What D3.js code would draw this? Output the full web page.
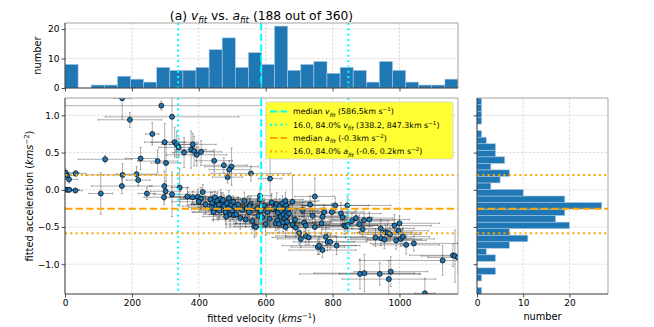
<!DOCTYPE html>
<html><head><meta charset="utf-8">
<script src="https://cdn.jsdelivr.net/npm/d3@7"></script>
<style>body{margin:0;background:#fff} svg{display:block;font-family:"DejaVu Sans",sans-serif}</style>
</head><body><svg id="c" width="654" height="327"></svg>
<script>
// ---------- data ----------
const velocityTicks = [0, 200, 400, 600, 800, 1000];
const accelTicks = [-1.0, -0.5, 0.0, 0.5, 1.0];
const countTicks = [0, 10, 20];
const velocityRange = [0, 1175];
const accelRange = [-1.40, 1.233];
// top histogram (30 bins over velocityRange)
const velocityCounts = [8,0,1,1,4,3,2,7,6,6,7,13,17,7,12,8,21,6,8,9,5,7,6,2,9,6,2,1,1,3];
// right histogram (30 bins over accelRange, lowest first)
const accelCounts = [1,0,1,4,0,4,2,7,11,7,20,17,19,27,19,10,3,5,7,3,6,4,4,2,1,0,1,1,1,1];
const medianV = 586.5, pctV = [338.2, 847.3];
const medianA = -0.255, pctA = [-0.585, 0.20];

const velocity = [
171,288,320,194,261,298,328,334,340,356,
377,382,386,394,407,120,226,277,302,446,
475,498,491,486,556,613,2,7,12,32,
172,214,219,170,297,343,0,8,13,31,
107,245,301,320,412,583,
296,366,382,397,406,400,420,
435,440,448,452,455,458,462,465,438,468,444,460,
472,476,480,484,488,490,494,497,500,503,505,507,482,
512,518,524,530,536,540,545,
550,555,560,566,571,575,578,582,585,552,
590,595,600,605,612,618,624,
628,630,633,635,637,640,642,645,647,650,652,654,656,658,660,661,662,663,664,665,659,
670,680,680,688,690,700,
705,710,715,720,720,729,733,740,
747,747,756,760,767,770,770,780,775,
785,793,798,808,812,
825,830,835,840,844,845,858,
882,880,890,894,895,870,
928,910,
941,944,945,955,958,965,968,974,972,
985,997,1004,1010,1000,990,
1020,1043,
1076,1129,1160,1166,1175];
const acceleration = [
1.23,1.13,0.98,0.94,0.75,0.64,0.64,0.61,0.57,0.50,
0.54,0.61,0.52,0.47,0.51,0.41,0.42,0.385,0.36,0.39,
0.33,0.31,0.27,0.17,0.22,0.15,0.23,0.19,0.14,0.22,
0.20,0.21,0.13,0.05,0.05,0.03,0.00,0.00,0.00,-0.01,
-0.05,-0.05,-0.02,-0.06,-0.03,-0.08,
-0.10,-0.09,-0.10,-0.09,-0.12,-0.16,-0.20,
-0.13,-0.18,-0.10,-0.22,-0.15,-0.26,-0.28,-0.12,-0.24,-0.19,-0.30,-0.20,
-0.14,-0.22,-0.30,-0.18,-0.25,-0.11,-0.33,-0.20,-0.28,-0.16,-0.34,-0.23,-0.36,
-0.33,-0.20,-0.38,-0.27,-0.15,-0.40,-0.24,
-0.30,-0.19,-0.42,-0.49,-0.50,-0.25,-0.35,-0.13,-0.28,-0.22,
-0.37,-0.21,-0.46,-0.30,-0.39,-0.17,-0.26,
-0.24,-0.45,-0.19,-0.41,-0.31,-0.46,-0.22,-0.36,-0.28,-0.18,-0.44,-0.33,-0.25,-0.38,-0.50,-0.21,-0.29,-0.35,-0.43,-0.26,-0.15,
-0.32,-0.16,-0.47,-0.40,-0.51,-0.58,
-0.66,-0.27,-0.44,-0.48,-0.62,-0.64,-0.20,-0.35,
-0.09,-0.50,-0.77,-0.75,-0.45,-0.36,-0.81,-0.63,-0.30,
-0.70,-0.70,-0.30,-0.21,-0.75,
-0.32,-0.37,-0.48,-0.49,-0.21,-0.47,-0.42,
-1.13,-0.46,-0.53,-0.41,-1.12,-0.38,
-0.64,-0.40,
-1.13,-0.52,-0.65,-0.67,-0.57,-0.58,-1.20,-1.10,-0.60,
-0.48,-0.55,-0.66,-0.63,-0.45,-0.68,
-0.74,-0.72,
-1.39,-0.95,-0.88,-0.89,-0.91];
const velocityErr = [
25,300,200,95,20,60,70,45,60,35,
45,70,55,90,60,80,45,60,45,55,
70,80,60,45,120,35,40,30,25,30,
110,60,35,90,45,25,30,20,30,20,
35,25,45,55,45,35,
60,50,70,40,60,80,50,
90,60,70,100,50,80,60,110,70,90,60,75,
80,60,100,70,90,60,80,120,70,90,60,100,70,
80,110,70,90,60,100,80,
90,120,70,60,80,100,70,130,90,60,
100,80,120,70,90,110,80,
90,120,70,100,80,130,90,70,110,80,100,90,120,70,100,80,110,90,130,70,100,
90,70,110,80,100,90,
70,100,80,120,90,110,80,100,
60,100,80,110,90,70,100,120,90,
80,110,90,100,70,
120,90,100,80,130,90,110,
180,100,120,90,150,110,
90,120,
120,100,90,110,80,100,140,110,90,
110,90,100,80,120,90,
100,130,
30,250,130,100,90];
const accelerationErr = [
0.28,0.06,0.35,0.10,0.15,0.25,0.20,0.18,0.12,0.20,
0.25,0.15,0.20,0.15,0.15,0.05,0.15,0.15,0.25,0.15,
0.10,0.25,0.12,0.08,0.10,0.35,0.05,0.05,0.05,0.04,
0.15,0.10,0.08,0.10,0.20,0.25,0.03,0.03,0.03,0.03,
0.28,0.08,0.10,0.30,0.10,0.12,
0.10,0.12,0.08,0.10,0.15,0.08,0.12,
0.10,0.15,0.08,0.12,0.10,0.15,0.10,0.12,0.08,0.15,0.12,0.10,
0.10,0.15,0.12,0.08,0.12,0.10,0.15,0.10,0.12,0.08,0.12,0.10,0.15,
0.12,0.10,0.15,0.10,0.12,0.10,0.15,
0.12,0.10,0.12,0.15,0.12,0.10,0.12,0.08,0.12,0.10,
0.12,0.10,0.15,0.12,0.10,0.12,0.10,
0.12,0.10,0.15,0.12,0.10,0.12,0.10,0.15,0.12,0.10,0.12,0.10,0.12,0.15,0.12,0.10,0.12,0.10,0.12,0.10,0.12,
0.12,0.35,0.12,0.10,0.12,0.15,
0.12,0.10,0.12,0.10,0.12,0.10,0.12,0.10,
0.25,0.12,0.10,0.12,0.15,0.12,0.10,0.12,0.10,
0.12,0.10,0.12,0.10,0.12,
0.15,0.10,0.12,0.10,0.12,0.12,0.10,
0.20,0.12,0.10,0.12,0.25,0.10,
0.12,0.10,
0.15,0.12,0.10,0.12,0.10,0.12,0.25,0.20,0.10,
0.15,0.12,0.10,0.12,0.10,0.12,
0.12,0.10,
0.20,0.20,0.15,0.35,0.20];

// ---------- layout ----------
const svg = d3.select("#c");
const M = {l:65, r:458, t:98, b:294};
const T = {t:23, b:88};
const R = {l:477, r:608};
const x = d3.scaleLinear().domain(velocityRange).range([M.l, M.r]);
const y = d3.scaleLinear().domain(accelRange).range([M.b, M.t]);
const yTop = d3.scaleLinear().domain([0, 22.05]).range([T.b, T.t]);
const xRight = d3.scaleLinear().domain([0, 28.35]).range([R.l, R.r]);

const BLUE = "#1f77b4", CYAN = "#00ffff", ORANGE = "#ffa500";
const TICKFS = 9, LABFS = 9.8;
const dashed = "7.4,3.2", dotted = "2,3.3";

function rich(sel, parts, fs) {
  let off = 0;
  parts.forEach(p => {
    const ts = sel.append("tspan").text(p.t);
    let target = 0, size = fs;
    if (p.sub) { target = 0.28 * fs; size = 0.7 * fs; }
    if (p.sup) { target = -0.38 * fs; size = 0.7 * fs; }
    ts.attr("font-size", size);
    if (target !== off) { ts.attr("dy", target - off); off = target; }
    if (p.it) ts.attr("font-style", "italic");
  });
  return sel;
}

const defs = svg.append("defs");
defs.append("clipPath").attr("id","cm").append("rect").attr("x",M.l).attr("y",M.t).attr("width",M.r-M.l).attr("height",M.b-M.t);
defs.append("clipPath").attr("id","ct").append("rect").attr("x",M.l).attr("y",T.t).attr("width",M.r-M.l).attr("height",T.b-T.t);
defs.append("clipPath").attr("id","cr").append("rect").attr("x",R.l).attr("y",M.t).attr("width",R.r-R.l).attr("height",M.b-M.t);

function grid(g, xs, xv, ys, yv, x0, x1, y0, y1) {
  const gg = g.append("g").attr("stroke","#b0b0b0").attr("stroke-opacity",0.55).attr("stroke-width",0.8).attr("stroke-dasharray","2.5,1.5");
  xv.forEach(v => gg.append("line").attr("x1",xs(v)).attr("x2",xs(v)).attr("y1",y0).attr("y2",y1));
  yv.forEach(v => gg.append("line").attr("x1",x0).attr("x2",x1).attr("y1",ys(v)).attr("y2",ys(v)));
}
function frame(x0, x1, y0, y1) {
  svg.append("line").attr("x1",x0).attr("x2",x1).attr("y1",y0).attr("y2",y0).attr("stroke","#999").attr("stroke-width",0.9);
  svg.append("line").attr("x1",x1).attr("x2",x1).attr("y1",y0).attr("y2",y1).attr("stroke","#999").attr("stroke-width",0.9);
  svg.append("line").attr("x1",x0).attr("x2",x0).attr("y1",y0).attr("y2",y1).attr("stroke","#222").attr("stroke-width",0.9);
  svg.append("line").attr("x1",x0).attr("x2",x1).attr("y1",y1).attr("y2",y1).attr("stroke","#222").attr("stroke-width",0.9);
}
function styleAxis(g, showLabels) {
  g.select(".domain").remove();
  g.selectAll(".tick line").attr("stroke","#222").attr("stroke-width",0.8);
  g.selectAll(".tick text").attr("font-size",TICKFS).attr("fill","#000").attr("font-family","DejaVu Sans");
  if (!showLabels) g.selectAll(".tick text").remove();
}
const fmtInt = d3.format("d");

// ---------- top histogram ----------
const vStep = (velocityRange[1]-velocityRange[0]) / velocityCounts.length;
grid(svg, x, velocityTicks, yTop, countTicks, M.l, M.r, T.t, T.b);
svg.append("g").attr("clip-path","url(#ct)").selectAll("rect").data(velocityCounts).join("rect")
  .attr("x",(d,i)=>x(velocityRange[0]+i*vStep))
  .attr("width",(d,i)=>x(velocityRange[0]+(i+1)*vStep)-x(velocityRange[0]+i*vStep))
  .attr("y",d=>yTop(d)).attr("height",d=>yTop(0)-yTop(d))
  .attr("fill",BLUE).attr("stroke","#a9c8e4").attr("stroke-width",0.6);
const topLines = svg.append("g").attr("clip-path","url(#ct)");
topLines.append("line").attr("x1",x(medianV)).attr("x2",x(medianV)).attr("y1",T.t).attr("y2",T.b)
  .attr("stroke",CYAN).attr("stroke-width",2).attr("stroke-dasharray",dashed);
pctV.forEach(v => topLines.append("line").attr("x1",x(v)).attr("x2",x(v)).attr("y1",T.t).attr("y2",T.b)
  .attr("stroke",CYAN).attr("stroke-width",2).attr("stroke-dasharray",dotted));
frame(M.l, M.r, T.t, T.b);
styleAxis(svg.append("g").attr("transform",`translate(0,${T.b})`).call(d3.axisBottom(x).tickValues(velocityTicks).tickSizeInner(3.5).tickSizeOuter(0)), false);
styleAxis(svg.append("g").attr("transform",`translate(${M.l},0)`).call(d3.axisLeft(yTop).tickValues(countTicks).tickFormat(fmtInt).tickSizeInner(3.5).tickSizeOuter(0).tickPadding(2)), true);
svg.append("text").attr("transform",`translate(41,${(T.t+T.b)/2}) rotate(-90)`).attr("text-anchor","middle")
  .attr("font-size",LABFS).text("number");

rich(svg.append("text").attr("x",(M.l+M.r)/2).attr("y",19.5).attr("text-anchor","middle").attr("font-size",12.3),
  [{t:"(a) "},{t:"v",it:1},{t:"fit",it:1,sub:1},{t:" vs. "},{t:"a",it:1},{t:"fit",it:1,sub:1},{t:" (188 out of 360)"}], 12.3);

// ---------- main scatter ----------
grid(svg, x, velocityTicks, y, accelTicks, M.l, M.r, M.t, M.b);
const pts = velocity.map((v,i)=>({v, a:acceleration[i], ev:velocityErr[i], ea:accelerationErr[i]}));
const eb = svg.append("g").attr("clip-path","url(#cm)").attr("stroke","#000").attr("stroke-opacity",0.42).attr("stroke-width",0.75);
pts.forEach(p => {
  const cx = x(p.v), cy = y(p.a);
  const xl = x(p.v-p.ev), xr = x(p.v+p.ev), yt = y(p.a+p.ea), yb = y(p.a-p.ea);
  eb.append("line").attr("x1",xl).attr("x2",xr).attr("y1",cy).attr("y2",cy);
  eb.append("line").attr("x1",cx).attr("x2",cx).attr("y1",yt).attr("y2",yb);
  eb.append("line").attr("x1",xl).attr("x2",xl).attr("y1",cy-1).attr("y2",cy+1);
  eb.append("line").attr("x1",xr).attr("x2",xr).attr("y1",cy-1).attr("y2",cy+1);
  eb.append("line").attr("x1",cx-1).attr("x2",cx+1).attr("y1",yt).attr("y2",yt);
  eb.append("line").attr("x1",cx-1).attr("x2",cx+1).attr("y1",yb).attr("y2",yb);
});
svg.append("g").attr("clip-path","url(#cm)").selectAll("circle").data(pts).join("circle")
  .attr("cx",d=>x(d.v)).attr("cy",d=>y(d.a)).attr("r",2.5)
  .attr("fill",BLUE).attr("stroke","#000").attr("stroke-width",0.7);
const ml = svg.append("g").attr("clip-path","url(#cm)");
ml.append("line").attr("x1",x(medianV)).attr("x2",x(medianV)).attr("y1",M.t).attr("y2",M.b)
  .attr("stroke",CYAN).attr("stroke-width",2).attr("stroke-dasharray",dashed);
pctV.forEach(v => ml.append("line").attr("x1",x(v)).attr("x2",x(v)).attr("y1",M.t).attr("y2",M.b)
  .attr("stroke",CYAN).attr("stroke-width",2).attr("stroke-dasharray",dotted));
ml.append("line").attr("x1",M.l).attr("x2",M.r).attr("y1",y(medianA)).attr("y2",y(medianA))
  .attr("stroke",ORANGE).attr("stroke-width",2).attr("stroke-dasharray",dashed);
pctA.forEach(a => ml.append("line").attr("x1",M.l).attr("x2",M.r).attr("y1",y(a)).attr("y2",y(a))
  .attr("stroke",ORANGE).attr("stroke-width",2).attr("stroke-dasharray",dotted));
frame(M.l, M.r, M.t, M.b);
styleAxis(svg.append("g").attr("transform",`translate(0,${M.b})`).call(d3.axisBottom(x).tickValues(velocityTicks).tickFormat(fmtInt).tickSizeInner(3.5).tickSizeOuter(0).tickPadding(2)), true);
styleAxis(svg.append("g").attr("transform",`translate(${M.l},0)`).call(d3.axisLeft(y).tickValues(accelTicks).tickFormat(d3.format(".1f")).tickSizeInner(3.5).tickSizeOuter(0).tickPadding(2)), true);
rich(svg.append("text").attr("x",(M.l+M.r)/2).attr("y",322).attr("text-anchor","middle").attr("font-size",LABFS),
  [{t:"fitted velocity ("},{t:"kms",it:1},{t:"−1",sup:1},{t:")"}], LABFS);
rich(svg.append("text").attr("transform",`translate(33,${(M.t+M.b)/2}) rotate(-90)`).attr("text-anchor","middle").attr("font-size",LABFS),
  [{t:"fitted acceleration ("},{t:"kms",it:1},{t:"−2",sup:1},{t:")"}], LABFS);

// legend
const LG = {x:266, y:102, w:187, h:57};
const lg = svg.append("g");
lg.append("rect").attr("x",LG.x).attr("y",LG.y).attr("width",LG.w).attr("height",LG.h).attr("rx",2)
  .attr("fill","#ffff00").attr("fill-opacity",0.8).attr("stroke","#d0d0d0").attr("stroke-width",0.8);
const LFS = 7.9;
const legendItems = [
  {c:CYAN, d:dashed, parts:[{t:"median "},{t:"v",it:1},{t:"fit",it:1,sub:1},{t:" (586.5km s"},{t:"−1",sup:1},{t:")"}]},
  {c:CYAN, d:dotted, parts:[{t:"16.0, 84.0% "},{t:"v",it:1},{t:"fit",it:1,sub:1},{t:" (338.2, 847.3km s"},{t:"−1",sup:1},{t:")"}]},
  {c:ORANGE, d:dashed, parts:[{t:"median "},{t:"a",it:1},{t:"fit",it:1,sub:1},{t:" (-0.3km s"},{t:"−2",sup:1},{t:")"}]},
  {c:ORANGE, d:dotted, parts:[{t:"16.0, 84.0% "},{t:"a",it:1},{t:"fit",it:1,sub:1},{t:" (-0.6, 0.2km s"},{t:"−2",sup:1},{t:")"}]}
];
legendItems.forEach((it,i) => {
  const yy = LG.y + 9.5 + i*13.3;
  lg.append("line").attr("x1",LG.x+4).attr("x2",LG.x+21).attr("y1",yy).attr("y2",yy)
    .attr("stroke",it.c).attr("stroke-width",2).attr("stroke-dasharray",it.d);
  rich(lg.append("text").attr("x",LG.x+27).attr("y",yy+2.9).attr("font-size",LFS), it.parts, LFS);
});

// ---------- right histogram ----------
const aStep = (accelRange[1]-accelRange[0]) / accelCounts.length;
grid(svg, xRight, countTicks, y, accelTicks, R.l, R.r, M.t, M.b);
svg.append("g").attr("clip-path","url(#cr)").selectAll("rect").data(accelCounts).join("rect")
  .attr("y",(d,i)=>y(accelRange[0]+(i+1)*aStep))
  .attr("height",(d,i)=>y(accelRange[0]+i*aStep)-y(accelRange[0]+(i+1)*aStep))
  .attr("x",xRight(0)).attr("width",d=>xRight(d)-xRight(0))
  .attr("fill",BLUE).attr("stroke","#a9c8e4").attr("stroke-width",0.6);
const rl = svg.append("g").attr("clip-path","url(#cr)");
rl.append("line").attr("x1",R.l).attr("x2",R.r).attr("y1",y(medianA)).attr("y2",y(medianA))
  .attr("stroke",ORANGE).attr("stroke-width",2).attr("stroke-dasharray",dashed);
pctA.forEach(a => rl.append("line").attr("x1",R.l).attr("x2",R.r).attr("y1",y(a)).attr("y2",y(a))
  .attr("stroke",ORANGE).attr("stroke-width",2).attr("stroke-dasharray",dotted));
frame(R.l, R.r, M.t, M.b);
styleAxis(svg.append("g").attr("transform",`translate(0,${M.b})`).call(d3.axisBottom(xRight).tickValues(countTicks).tickFormat(fmtInt).tickSizeInner(3.5).tickSizeOuter(0).tickPadding(2)), true);
styleAxis(svg.append("g").attr("transform",`translate(${R.l},0)`).call(d3.axisLeft(y).tickValues(accelTicks).tickSizeInner(3.5).tickSizeOuter(0)), false);
svg.append("text").attr("x",(R.l+R.r)/2).attr("y",320).attr("text-anchor","middle").attr("font-size",LABFS).text("number");
</script></body></html>
